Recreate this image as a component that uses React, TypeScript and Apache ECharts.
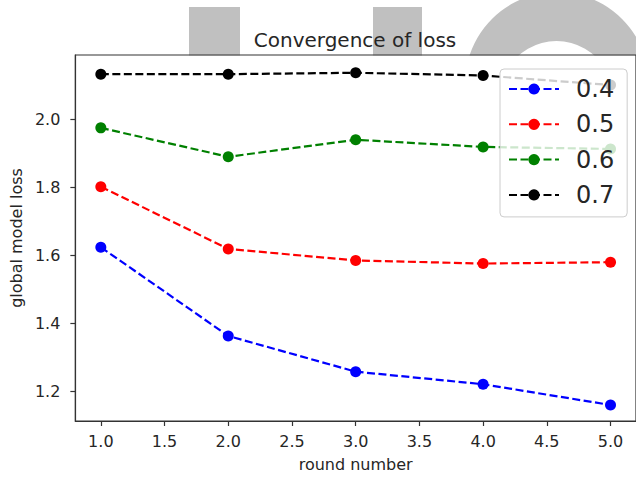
import React, { useEffect, useRef } from "react";
import * as echarts from "echarts";

const rounds = [1, 2, 3, 4, 5];
const seriesNames = ["0.4", "0.5", "0.6", "0.7"];
const loss04 = [1.625, 1.364, 1.259, 1.222, 1.161];
const loss05 = [1.803, 1.62, 1.586, 1.577, 1.581];
const loss06 = [1.976, 1.891, 1.941, 1.92, 1.914];
const loss07 = [2.134, 2.134, 2.138, 2.13, 2.102];
const seriesColors = ["#0000ff", "#ff0000", "#008000", "#000000"];
const xTicks = [1.0, 1.5, 2.0, 2.5, 3.0, 3.5, 4.0, 4.5, 5.0];
const yTicks = [1.2, 1.4, 1.6, 1.8, 2.0];

const FONT = "DejaVu Sans";

export default function App() {
  const ref = useRef<HTMLDivElement>(null);
  useEffect(() => {
    document.body.style.margin = "0";
    const chart = echarts.init(ref.current!, null, { renderer: "svg" });
    const all = [loss04, loss05, loss06, loss07];
    const option: any = {
      animation: false,
      backgroundColor: "#ffffff",
      grid: {
        left: 72.7,
        top: 55,
        width: 565.7,
        height: 367.7,
        show: true,
        borderColor: "#333333",
        borderWidth: 1.2,
        backgroundColor: "transparent",
      },
      graphic: [
        { type: "rect", z: -4, shape: { x: 189, y: 7, width: 51, height: 50 }, style: { fill: "#c0c0c0" } },
        { type: "rect", z: -4, shape: { x: 373, y: 7, width: 49, height: 50 }, style: { fill: "#c0c0c0" } },
        { type: "circle", z: -4, shape: { cx: 557, cy: 84, r: 92 }, style: { fill: "#c0c0c0" } },
        { type: "circle", z: -3, shape: { cx: 556.5, cy: 98, r: 57 }, style: { fill: "#ffffff" } },
        { type: "rect", z: -2, shape: { x: 0, y: 55.5, width: 636, height: 430 }, style: { fill: "#ffffff" } },
        {
          type: "text",
          z: 5,
          x: 355,
          y: 40,
          style: {
            text: "Convergence of loss",
            fontSize: 20,
            fontFamily: FONT,
            fill: "#262626",
            align: "center",
            verticalAlign: "middle",
          },
        },
      ],
      legend: {
        orient: "vertical",
        left: 500,
        top: 69,
        data: seriesNames,
        padding: [8, 13, 10, 8],
        itemWidth: 50,
        itemHeight: 14,
        itemGap: 11.3,
        backgroundColor: "rgba(255,255,255,0.8)",
        borderColor: "#cccccc",
        borderWidth: 1,
        borderRadius: 4,
        textStyle: {
          fontSize: 24,
          fontFamily: FONT,
          color: "#262626",
          lineHeight: 24,
          padding: [0, 0, 0, 12],
        },
      },
      xAxis: {
        type: "value",
        min: 0.8,
        max: 5.2,
        name: "round number",
        nameLocation: "middle",
        nameGap: 35,
        nameTextStyle: { fontSize: 16, fontFamily: FONT, color: "#262626" },
        axisLine: { show: true, lineStyle: { color: "#333333", width: 1.2 } },
        axisTick: { show: true, length: 5, lineStyle: { color: "#333333", width: 1.2 }, customValues: xTicks },
        axisLabel: {
          margin: 12,
          fontSize: 16,
          fontFamily: FONT,
          color: "#262626",
          customValues: xTicks,
          formatter: (v: number) => v.toFixed(1),
        },
        splitLine: { show: false },
      },
      yAxis: {
        type: "value",
        min: 1.1139,
        max: 2.1903,
        name: "global model loss",
        nameLocation: "middle",
        nameGap: 48,
        nameTextStyle: { fontSize: 16, fontFamily: FONT, color: "#262626" },
        axisLine: { show: true, lineStyle: { color: "#333333", width: 1.2 } },
        axisTick: { show: true, length: 5, lineStyle: { color: "#333333", width: 1.2 }, customValues: yTicks },
        axisLabel: {
          margin: 15,
          fontSize: 16,
          fontFamily: FONT,
          color: "#262626",
          customValues: yTicks,
          formatter: (v: number) => v.toFixed(1),
        },
        splitLine: { show: false },
      },
      series: seriesNames.map((name, i) => ({
        name,
        type: "line",
        data: rounds.map((r, j) => [r, all[i][j]]),
        symbol: "circle",
        symbolSize: 11,
        itemStyle: { color: seriesColors[i] },
        lineStyle: { color: seriesColors[i], width: 2.2, type: [8, 3.5] },
        clip: false,
      })),
    };
    chart.setOption(option);
    return () => chart.dispose();
  }, []);
  return (
    <div
      ref={ref}
      style={{ position: "fixed", left: 0, top: 0, width: 636, height: 477, background: "#fff" }}
    />
  );
}
